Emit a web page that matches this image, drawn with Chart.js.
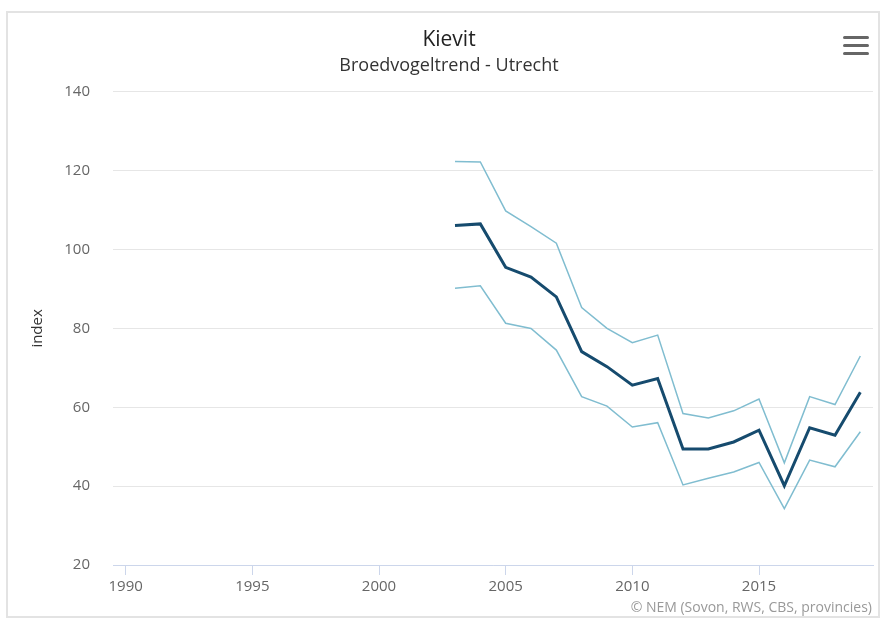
<!DOCTYPE html>
<html>
<head>
<meta charset="utf-8">
<script src="https://cdn.jsdelivr.net/npm/chart.js@4"></script>
<style>
  html, body { margin: 0; padding: 0; background: #fff; }
  #wrap { position: relative; width: 886px; height: 628px; }
  #frame { position: absolute; left: 6px; top: 11px; width: 874px; height: 607px; border: 2px solid #e3e3e3; box-sizing: border-box; }
  #menu { position: absolute; left: 843px; top: 36px; width: 26px; }
  #menu div { height: 3px; background: #666; border-radius: 2px; margin-bottom: 5px; }
  #credits { position: absolute; right: 14px; top: 597px; font: 14px "Open Sans", sans-serif; color: #999; }
  canvas { position: absolute; left: 0; top: 0; }
</style>
</head>
<body>
<div id="wrap">
  <div id="frame"></div>
  <canvas id="graficaKievit" width="886" height="628"></canvas>
  <div id="menu"><div></div><div></div><div></div></div>
  <div id="credits">© NEM (Sovon, RWS, CBS, provincies)</div>
</div>
<script>
const jaren = [2003, 2004, 2005, 2006, 2007, 2008, 2009, 2010, 2011, 2012, 2013, 2014, 2015, 2016, 2017, 2018, 2019];
const indexWaarden = [106.1, 106.5, 95.5, 93.0, 88.0, 74.1, 70.3, 65.6, 67.3, 49.4, 49.4, 51.2, 54.2, 40.1, 54.8, 52.9, 63.8];
const bovengrens = [122.3, 122.2, 109.8, 105.8, 101.6, 85.3, 80.0, 76.4, 78.3, 58.4, 57.3, 59.1, 62.1, 45.9, 62.7, 60.7, 73.0];
const ondergrens = [90.2, 90.8, 81.3, 80.0, 74.5, 62.7, 60.3, 55.0, 56.1, 40.3, 42.0, 43.6, 46.0, 34.3, 46.6, 44.9, 53.8];
const xTicks = [1990, 1995, 2000, 2005, 2010, 2015];
const yTicks = [20, 40, 60, 80, 100, 120, 140];

const punten = waarden => jaren.map((j, i) => ({ x: j, y: waarden[i] }));
const font = "'Open Sans', sans-serif";

new Chart(document.getElementById("graficaKievit"), {
  type: "line",
  data: {
    datasets: [
      { label: "Index", data: punten(indexWaarden), borderColor: "#164b6e", borderWidth: 3, order: 0 },
      { label: "Bovengrens", data: punten(bovengrens), borderColor: "#80bdd0", borderWidth: 1.5, order: 1 },
      { label: "Ondergrens", data: punten(ondergrens), borderColor: "#80bdd0", borderWidth: 1.5, order: 1 }
    ]
  },
  options: {
    responsive: false,
    animation: false,
    elements: { point: { radius: 0 }, line: { tension: 0 } },
    layout: { padding: { left: 25, right: 13, top: 0, bottom: 23 } },
    plugins: {
      legend: { display: false },
      tooltip: { enabled: false },
      title: {
        display: true, text: "Kievit", color: "#222",
        font: { family: font, size: 21, weight: "normal" }, padding: { top: 27, bottom: 2 }
      },
      subtitle: {
        display: true, text: "Broedvogeltrend - Utrecht", color: "#333",
        font: { family: font, size: 18 }, padding: { top: 1, bottom: 15 }
      }
    },
    scales: {
      x: {
        type: "linear", min: 1989.5, max: 2019.5,
        afterBuildTicks: s => { s.ticks = xTicks.map(v => ({ value: v })); },
        afterFit: s => { s.height = 40; },
        grid: { drawOnChartArea: false, drawTicks: true, tickLength: 10, color: "#ccd6eb" },
        border: { display: true, color: "#ccd6eb" },
        ticks: { color: "#666", font: { family: font, size: 15 }, padding: 3, maxRotation: 0, callback: v => String(v) }
      },
      y: {
        min: 20, max: 140,
        afterBuildTicks: s => { s.ticks = yTicks.map(v => ({ value: v })); },
        afterFit: s => { s.width = 88; },
        grid: { color: "#e6e6e6", drawTicks: false },
        border: { display: false },
        ticks: { color: "#666", font: { family: font, size: 15 }, padding: 23 },
        title: { display: true, text: "index", color: "#333", font: { family: font, size: 15 }, padding: { top: 4, bottom: 0 } }
      }
    }
  }
});
</script>
</body>
</html>
